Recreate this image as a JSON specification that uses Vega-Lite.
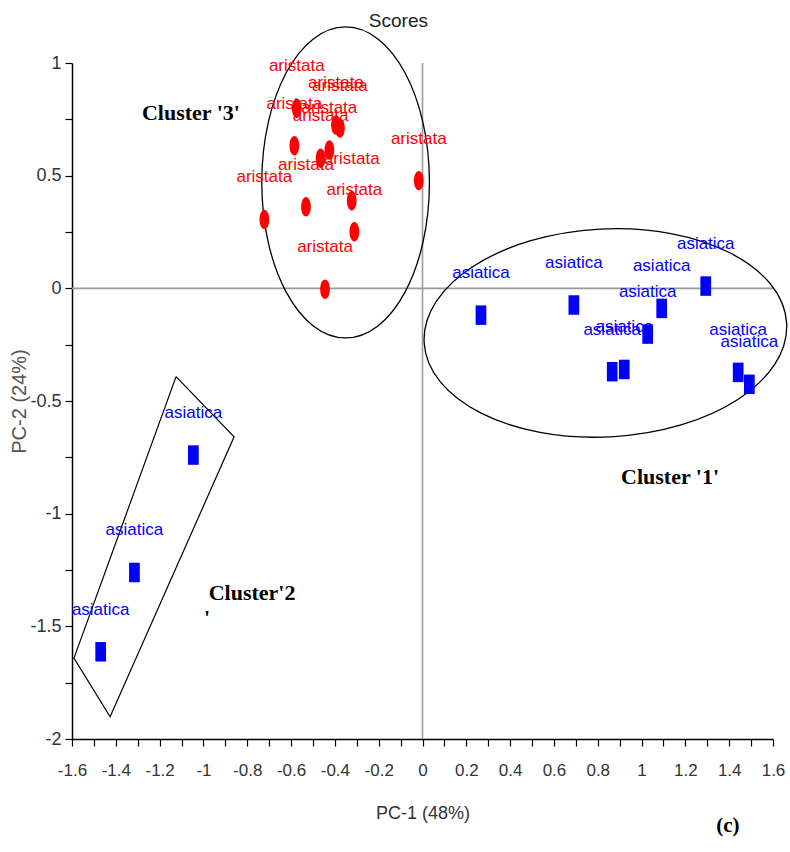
{
  "$schema": "https://vega.github.io/schema/vega-lite/v6.json",
  "width": 701,
  "height": 676,
  "autosize": {"type": "none"},
  "padding": {"left": 72, "top": 63, "right": 17, "bottom": 113},
  "background": "white",
  "config": {
    "view": {"stroke": null},
    "axis": {"grid": false}
  },
  "datasets": {
    "scores": [
      {"species": "aristata", "pc1": -0.574, "pc2": 0.799},
      {"species": "aristata", "pc1": -0.395, "pc2": 0.725},
      {"species": "aristata", "pc1": -0.377, "pc2": 0.711},
      {"species": "aristata", "pc1": -0.585, "pc2": 0.633},
      {"species": "aristata", "pc1": -0.425, "pc2": 0.614},
      {"species": "aristata", "pc1": -0.465, "pc2": 0.577},
      {"species": "aristata", "pc1": -0.017, "pc2": 0.478},
      {"species": "aristata", "pc1": -0.532, "pc2": 0.362},
      {"species": "aristata", "pc1": -0.323, "pc2": 0.389},
      {"species": "aristata", "pc1": -0.722, "pc2": 0.306},
      {"species": "aristata", "pc1": -0.311, "pc2": 0.251},
      {"species": "aristata", "pc1": -0.445, "pc2": -0.004},
      {"species": "asiatica", "pc1": 0.267, "pc2": -0.119},
      {"species": "asiatica", "pc1": 0.691, "pc2": -0.074},
      {"species": "asiatica", "pc1": 0.866, "pc2": -0.370},
      {"species": "asiatica", "pc1": 0.921, "pc2": -0.360},
      {"species": "asiatica", "pc1": 1.028, "pc2": -0.203},
      {"species": "asiatica", "pc1": 1.092, "pc2": -0.089},
      {"species": "asiatica", "pc1": 1.293, "pc2": 0.010},
      {"species": "asiatica", "pc1": 1.441, "pc2": -0.373},
      {"species": "asiatica", "pc1": 1.492, "pc2": -0.426},
      {"species": "asiatica", "pc1": -1.046, "pc2": -0.740},
      {"species": "asiatica", "pc1": -1.315, "pc2": -1.261},
      {"species": "asiatica", "pc1": -1.469, "pc2": -1.613}
    ],
    "box": [
      {"order": 1, "pc1": -1.125, "pc2": -0.392},
      {"order": 2, "pc1": -0.860, "pc2": -0.659},
      {"order": 3, "pc1": -1.426, "pc2": -1.901},
      {"order": 4, "pc1": -1.591, "pc2": -1.641},
      {"order": 5, "pc1": -1.125, "pc2": -0.392}
    ],
    "clusters": [
      {"label": "Cluster '3'", "pc1": -1.057, "pc2": 0.778},
      {"label": "Cluster '1'", "pc1": 1.130, "pc2": -0.838},
      {"label": "Cluster'2", "pc1": -0.778, "pc2": -1.352},
      {"label": "'", "pc1": -0.984, "pc2": -1.465}
    ],
    "panel": [
      {"label": "(c)", "pc1": 1.394, "pc2": -2.387}
    ],
    "heading": [
      {"label": "Scores", "pc1": -0.11, "pc2": 1.186}
    ]
  },
  "encoding": {
    "x": {
      "field": "pc1",
      "type": "quantitative",
      "scale": {"domain": [-1.6, 1.6], "nice": false, "zero": false},
      "axis": {
        "title": "PC-1 (48%)",
        "values": [-1.6, -1.5, -1.4, -1.3, -1.2, -1.1, -1, -0.9, -0.8, -0.7, -0.6, -0.5, -0.4, -0.3, -0.2, -0.1, 0, 0.1, 0.2, 0.3, 0.4, 0.5, 0.6, 0.7, 0.8, 0.9, 1, 1.1, 1.2, 1.3, 1.4, 1.5, 1.6],
        "labelExpr": "abs(round(datum.value*10)) % 2 == 0 ? '' + datum.value : ''",
        "labelOverlap": false,
        "labelFlush": false,
        "domainColor": "#000000",
        "domainWidth": 1.5,
        "tickColor": "#000000",
        "tickWidth": 1.2,
        "tickSize": 7,
        "labelFont": "Liberation Sans, sans-serif",
        "labelFontSize": 17,
        "labelColor": "#333333",
        "labelPadding": 16,
        "titleFont": "Liberation Sans, sans-serif",
        "titleFontSize": 18,
        "titleFontWeight": "normal",
        "titleColor": "#333333",
        "titlePadding": 26
      }
    },
    "y": {
      "field": "pc2",
      "type": "quantitative",
      "scale": {"domain": [-2, 1], "nice": false, "zero": false},
      "axis": {
        "title": "PC-2 (24%)",
        "values": [-2, -1.75, -1.5, -1.25, -1, -0.75, -0.5, -0.25, 0, 0.25, 0.5, 0.75, 1],
        "labelExpr": "abs(round(datum.value*4)) % 2 == 0 ? '' + datum.value : ''",
        "labelOverlap": false,
        "labelFlush": false,
        "domainColor": "#000000",
        "domainWidth": 1.5,
        "tickColor": "#000000",
        "tickWidth": 1.2,
        "tickSize": 7,
        "labelFont": "Liberation Sans, sans-serif",
        "labelFontSize": 18,
        "labelColor": "#333333",
        "labelPadding": 4,
        "titleFont": "Liberation Sans, sans-serif",
        "titleFontSize": 20,
        "titleFontWeight": "normal",
        "titleColor": "#555555",
        "titlePadding": 0
      }
    }
  },
  "layer": [
    {
      "data": {"values": [{"v": 0}]},
      "mark": {"type": "rule", "color": "#9a9a9a", "strokeWidth": 1.6},
      "encoding": {"x": {"field": "v", "type": "quantitative"}, "y": null}
    },
    {
      "data": {"values": [{"v": 0}]},
      "mark": {"type": "rule", "color": "#9a9a9a", "strokeWidth": 1.6},
      "encoding": {"y": {"field": "v", "type": "quantitative"}, "x": null}
    },
    {
      "data": {"name": "box"},
      "mark": {"type": "line", "color": "#000000", "strokeWidth": 1.2},
      "encoding": {"order": {"field": "order", "type": "quantitative"}}
    },
    {
      "data": {"values": [{"pc1": -0.351, "pc2": 0.470}]},
      "mark": {
        "type": "point",
        "shape": "M0,-1 C0.2977,-1 0.539,-0.5523 0.539,0 C0.539,0.5523 0.2977,1 0,1 C-0.2977,1 -0.539,0.5523 -0.539,0 C-0.539,-0.5523 -0.2977,-1 0,-1 Z",
        "size": 96721,
        "filled": false,
        "color": "#000000",
        "strokeWidth": 1.3,
        "opacity": 1
      }
    },
    {
      "data": {"values": [{"pc1": 0.835, "pc2": -0.198}]},
      "mark": {
        "type": "point",
        "shape": "M-1,0 C-1,-0.3165 -0.5523,-0.573 0,-0.573 C0.5523,-0.573 1,-0.3165 1,0 C1,0.3165 0.5523,0.573 0,0.573 C-0.5523,0.573 -1,0.3165 -1,0 Z",
        "size": 131769,
        "angle": -3,
        "filled": false,
        "color": "#000000",
        "strokeWidth": 1.3,
        "opacity": 1
      }
    },
    {
      "data": {"name": "scores"},
      "mark": {"type": "point", "filled": true, "size": 380, "opacity": 1},
      "encoding": {
        "color": {
          "field": "species",
          "type": "nominal",
          "scale": {"domain": ["aristata", "asiatica"], "range": ["#ff0000", "#0000ff"]},
          "legend": null
        },
        "shape": {
          "field": "species",
          "type": "nominal",
          "scale": {
            "domain": ["aristata", "asiatica"],
            "range": [
              "M0,-1 C0.2761,-1 0.5,-0.5523 0.5,0 C0.5,0.5523 0.2761,1 0,1 C-0.2761,1 -0.5,0.5523 -0.5,0 C-0.5,-0.5523 -0.2761,-1 0,-1 Z",
              "M-0.55,-1 L0.55,-1 L0.55,1 L-0.55,1 Z"
            ]
          },
          "legend": null
        }
      }
    },
    {
      "data": {"name": "scores"},
      "mark": {
        "type": "text",
        "dy": -42,
        "font": "Liberation Sans, sans-serif",
        "fontSize": 17
      },
      "encoding": {
        "text": {"field": "species"},
        "color": {
          "field": "species",
          "type": "nominal",
          "scale": {"domain": ["aristata", "asiatica"], "range": ["#ff0000", "#0000ff"]},
          "legend": null
        }
      }
    },
    {
      "data": {"name": "clusters"},
      "mark": {
        "type": "text",
        "font": "Liberation Serif, serif",
        "fontSize": 22,
        "fontWeight": "bold",
        "color": "#000000"
      },
      "encoding": {"text": {"field": "label"}}
    },
    {
      "data": {"name": "panel"},
      "mark": {
        "type": "text",
        "font": "Liberation Serif, serif",
        "fontSize": 21,
        "fontWeight": "bold",
        "color": "#000000"
      },
      "encoding": {"text": {"field": "label"}}
    },
    {
      "data": {"name": "heading"},
      "mark": {
        "type": "text",
        "font": "Liberation Sans, sans-serif",
        "fontSize": 19,
        "color": "#222222"
      },
      "encoding": {"text": {"field": "label"}}
    }
  ]
}
